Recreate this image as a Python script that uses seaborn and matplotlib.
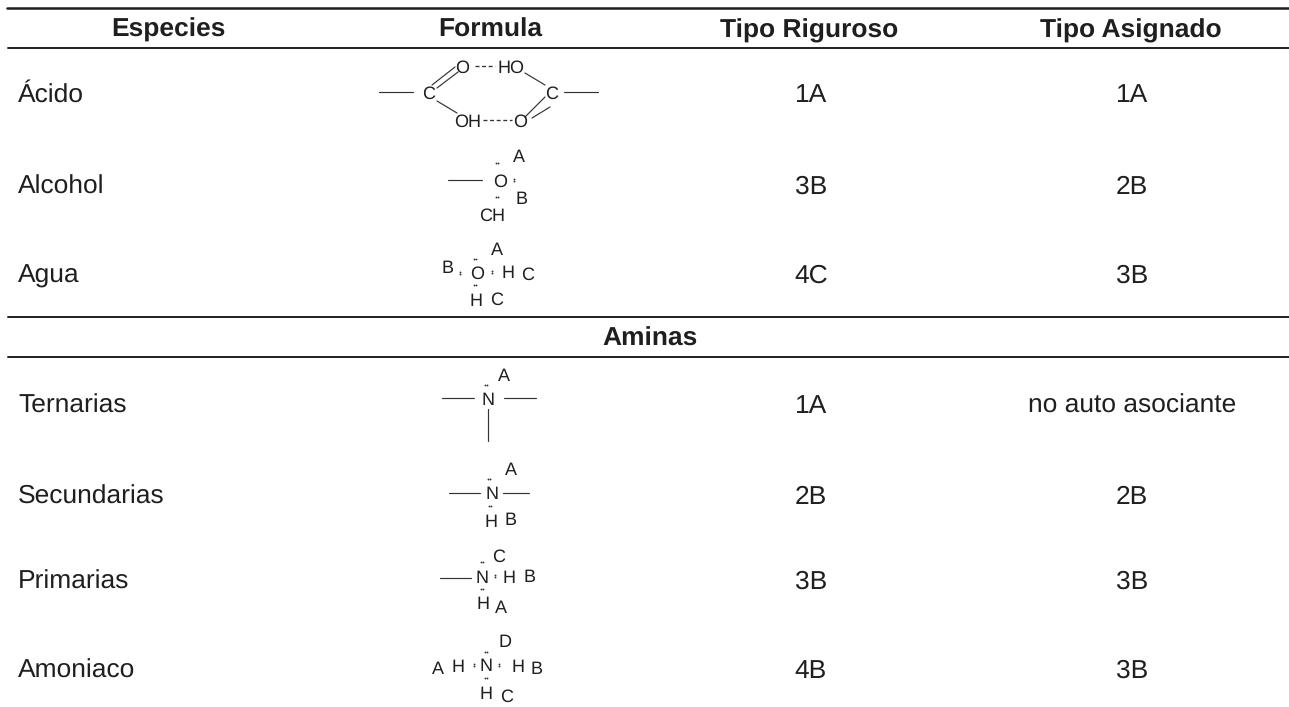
import matplotlib
matplotlib.use("Agg")
import matplotlib.pyplot as plt
import pandas as pd
import seaborn as sns

# ---- table content ----
headers = ["Especies", "Formula", "Tipo Riguroso", "Tipo Asignado"]
species_top = ["Ácido", "Alcohol", "Agua"]
rigorous_top = ["1A", "3B", "4C"]
assigned_top = ["1A", "2B", "3B"]
section = "Aminas"
species_amines = ["Ternarias", "Secundarias", "Primarias", "Amoniaco"]
rigorous_amines = ["1A", "2B", "3B", "4B"]
assigned_amines = ["no auto asociante", "2B", "3B", "3B"]

# ---- layout in image pixels ----
W, H = 1289, 707
col_left, col_r, col_a = 18, 811, 1132
head_x = [168.5, 490, 809, 1131]
section_x = 650
y_header, y_section = 37, 346
y_top = [102, 194, 283]
y_amines = [413, 504, 589, 678]

# formula glyphs: (text, x, y)
glyphs = [
    ("C", 429, 92), ("O", 462, 66), ("HO", 511, 66), ("C", 552, 92), ("OH", 468, 120), ("O", 520, 120),
    ("A", 519, 156), ("O", 500, 180), ("B", 522, 198), ("CH", 492, 214),
    ("A", 497, 249), ("B", 448, 267), ("O", 477, 272), ("H", 508, 272), ("C", 528, 273), ("H", 476, 300), ("C", 497, 298),
    ("A", 504, 375), ("N", 488, 399),
    ("A", 511, 469), ("N", 492, 493), ("H", 491, 521), ("B", 511, 519),
    ("C", 499, 555), ("N", 482, 577), ("H", 509, 577), ("B", 530, 576), ("H", 483, 603), ("A", 501, 607),
    ("D", 505, 641), ("A", 438, 668), ("H", 458, 666), ("N", 486, 665), ("H", 518, 666), ("B", 537, 668), ("H", 486, 693), ("C", 507, 695),
]
# lone-pair dots: (x, y, horizontal?)
pairs = [
    (497, 163, True), (514, 180, False), (497, 197, True),
    (460, 273, False), (475, 259, True), (492, 272, False), (475, 285, True),
    (486, 385, True),
    (489, 479, True), (490, 506, True),
    (482, 562, True), (495, 576, False), (482, 589, True),
    (486, 652, True), (474, 665, False), (499, 665, False), (486, 678, True),
]
# bonds: (x0, y0, x1, y1)
bonds = [
    (379, 92, 413, 92), (564, 92, 598, 92),
    (432, 85, 455, 67), (437, 88, 458, 72), (437, 101, 457, 113),
    (525, 73, 545, 85), (525, 117, 545, 97), (532, 118, 550, 107),
    (448, 180, 482, 180),
    (442, 398, 474, 398), (504, 398, 536, 398), (488, 409, 488, 441),
    (449, 493, 480, 493), (503, 493, 529, 493),
    (440, 578, 471, 578),
]
hbonds = [(475, 66, 495, 66), (483, 120, 512, 120)]
# horizontal rules: (x0, x1, y, width)
rules = [(7, 1289, 7.5, 1.8), (8, 1289, 48, 1.4), (8, 1289, 317, 1.4), (8, 1289, 357, 1.4)]

sns.set_theme(style="white")
plt.rcParams["font.family"] = ["Liberation Sans", "DejaVu Sans"]
plt.rcParams["text.hinting"] = "no_hinting"
INK = "#1f1f1f"
BODY = 19
SMALL = 13
SMALL_CAP_PX = SMALL * 0.716 * 100 / 72

fig = plt.figure(figsize=(W / 100, H / 100), dpi=100, facecolor="white")
ax = fig.add_axes([0, 0, 1, 1])


def segs(items, lw, ls="-", color=INK):
    rows = []
    for i, (x0, y0, x1, y1) in enumerate(items):
        rows += [dict(id=i, o=0, x=x0, y=y0), dict(id=i, o=1, x=x1, y=y1)]
    sns.lineplot(data=pd.DataFrame(rows), x="x", y="y", units="id", estimator=None, sort=False,
                 color=color, lw=lw, ls=ls, ax=ax, legend=False)


for x0, x1, y, w in rules:
    segs([(x0, y, x1, y)], w)
segs(bonds, 0.85, color="#333333")
segs(hbonds, 0.95, ls=(0, (3, 2)), color="#333333")

ax.set_xlim(0, W)
ax.set_ylim(H, 0)
ax.set_axis_off()

kw = dict(va="baseline", color=INK)
for x, t in zip(head_x, headers):
    ax.text(x, y_header, t, ha="center", fontsize=BODY, fontweight="bold", **kw)
ax.text(section_x, y_section, section, ha="center", fontsize=BODY, fontweight="bold", **kw)

for ys, names, rig, asg in [(y_top, species_top, rigorous_top, assigned_top),
                            (y_amines, species_amines, rigorous_amines, assigned_amines)]:
    for y, n, r, a in zip(ys, names, rig, asg):
        ax.text(col_left, y, n, ha="left", fontsize=BODY, **kw)
        ax.text(col_r, y, r, ha="center", fontsize=BODY, **kw)
        ax.text(col_a, y, a, ha="center", fontsize=BODY, **kw)

for t, x, y in glyphs:
    ax.text(x, y + SMALL_CAP_PX / 2, t, ha="center", va="baseline", fontsize=SMALL, color=INK)

for x, y, horiz in pairs:
    dx, dy = (1.3, 0) if horiz else (0, 1.3)
    ax.scatter([x - dx, x + dx], [y - dy, y + dy], s=1.8, color="#333333", linewidths=0)

fig.savefig("out.png", dpi=100, facecolor="white")
